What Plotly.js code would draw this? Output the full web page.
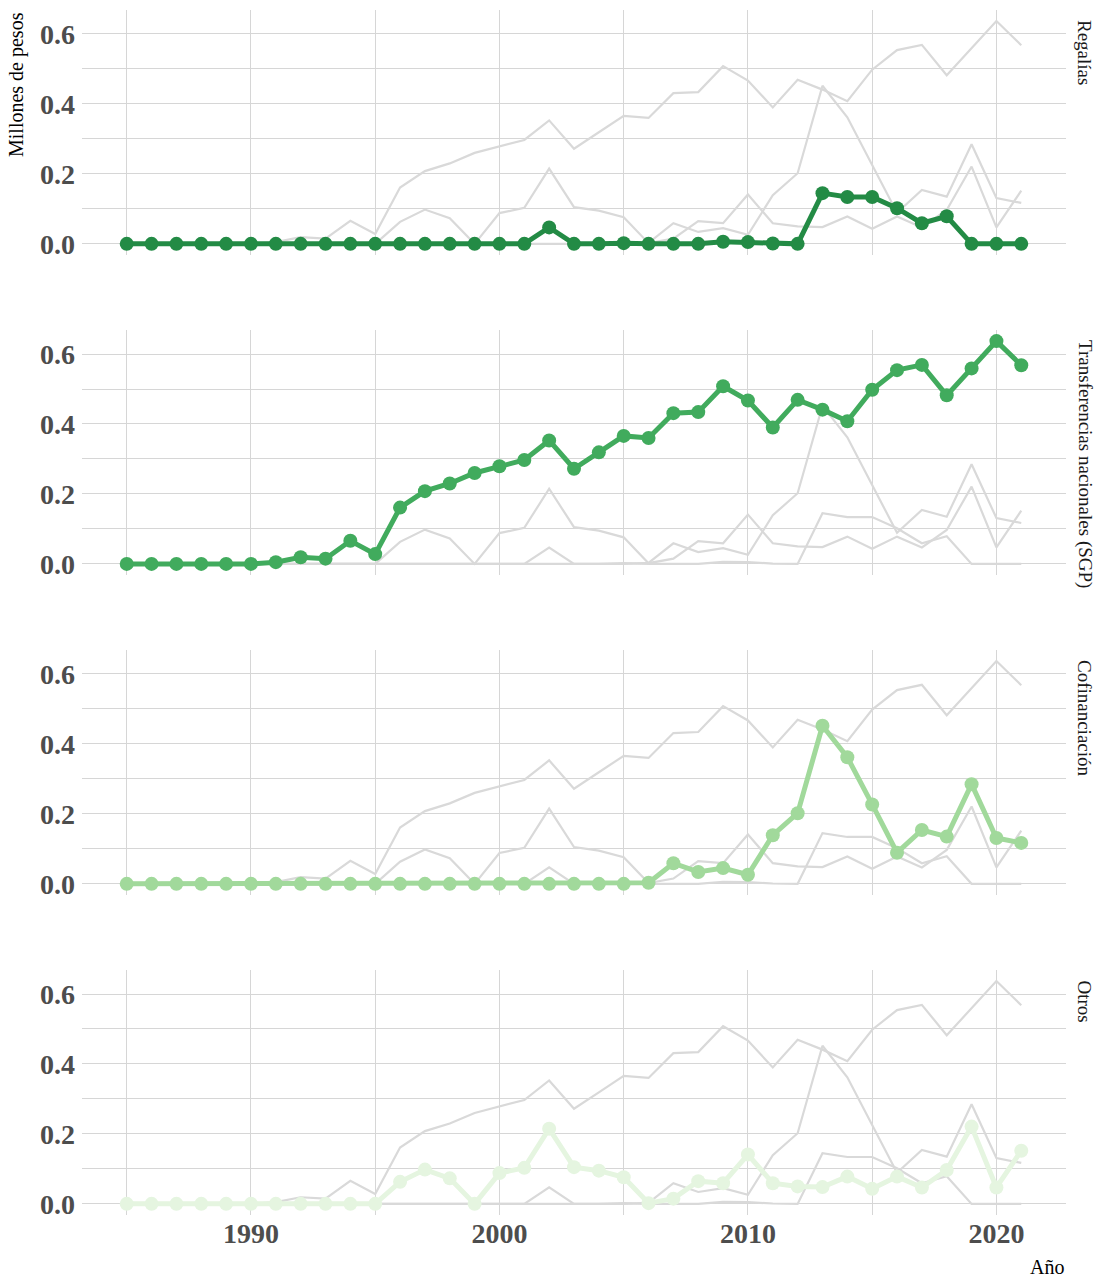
<!DOCTYPE html>
<html>
<head>
<meta charset="utf-8">
<script src="https://cdn.plot.ly/plotly-3.0.1.min.js"></script>
<style>html,body{margin:0;padding:0;background:#fff;}#chart{width:1102px;height:1280px;}</style>
</head>
<body>
<div id="chart"></div>
<script>
const years = [1985,1986,1987,1988,1989,1990,1991,1992,1993,1994,1995,1996,1997,1998,1999,2000,2001,2002,2003,2004,2005,2006,2007,2008,2009,2010,2011,2012,2013,2014,2015,2016,2017,2018,2019,2020,2021];
const regalias = [0,0,0,0,0,0,0,0,0,0,0,0,0,0,0,0,0,0.047,0,0,0.002,0,0,0,0.006,0.005,0.001,0,0.145,0.134,0.134,0.102,0.059,0.079,0,0,0];
const sgp = [0,0,0,0,0,0,0.005,0.019,0.015,0.066,0.028,0.161,0.208,0.230,0.260,0.279,0.297,0.353,0.272,0.319,0.366,0.360,0.431,0.434,0.508,0.467,0.390,0.469,0.441,0.408,0.498,0.554,0.569,0.482,0.559,0.637,0.568];
const cofinanciacion = [0,0,0,0,0,0,0,0,0,0,0,0,0,0,0,0,0,0,0,0,0,0.003,0.059,0.034,0.045,0.026,0.139,0.202,0.452,0.362,0.227,0.089,0.154,0.135,0.285,0.131,0.117];
const otros = [0,0,0,0,0,0,0,0,0,0,0,0.063,0.098,0.073,0,0.088,0.103,0.215,0.105,0.095,0.076,0.002,0.015,0.065,0.059,0.141,0.059,0.050,0.048,0.078,0.043,0.078,0.047,0.097,0.221,0.047,0.152];

const panelNames = ["Regalías","Transferencias nacionales (SGP)","Cofinanciación","Otros"];
const panelColors = ["#238b45","#41ab5d","#a1d99b","#e5f5e0"];
const xTickVals = [1990,2000,2010,2020];
const xTickText = ["1990","2000","2010","2020"];
const yTickVals = [0,0.2,0.4,0.6];
const yTickText = ["0.0","0.2","0.4","0.6"];

const series = [regalias, sgp, cofinanciacion, otros];
const traces = [];
for (let p = 0; p < 4; p++) {
  const xa = p === 0 ? 'x' : 'x' + (p + 1);
  const ya = p === 0 ? 'y' : 'y' + (p + 1);
  for (let s = 0; s < 4; s++) {
    traces.push({x: years, y: series[s], xaxis: xa, yaxis: ya, mode: 'lines',
      line: {color: '#d9d9d9', width: 2.2}, hoverinfo: 'skip'});
  }
  traces.push({x: years, y: series[p], xaxis: xa, yaxis: ya, mode: 'lines+markers',
    line: {color: panelColors[p], width: 5}, marker: {color: panelColors[p], size: 14}});
}

const domains = [[0.7967,1],[0.5311,0.7344],[0.2656,0.4689],[0,0.2033]];
const tickFont = {family: 'Liberation Serif, serif', size: 28, color: '#4d4d4d', weight: 'bold'};
const layout = {
  width: 1102, height: 1280,
  margin: {l: 82, r: 36, t: 10, b: 65},
  paper_bgcolor: '#ffffff', plot_bgcolor: '#ffffff',
  showlegend: false,
  annotations: []
};
for (let p = 0; p < 4; p++) {
  const xk = p === 0 ? 'xaxis' : 'xaxis' + (p + 1);
  const yk = p === 0 ? 'yaxis' : 'yaxis' + (p + 1);
  layout[xk] = {
    anchor: p === 0 ? 'y' : 'y' + (p + 1),
    range: [1983.2, 2022.8], showline: false, zeroline: false,
    tickvals: xTickVals, ticktext: xTickText, showticklabels: p === 3,
    ticks: '', gridcolor: '#d6d6d6', gridwidth: 1,
    minor: {tickvals: [1985,1995,2005,2015], showgrid: true, gridcolor: '#d6d6d6', gridwidth: 1},
    tickfont: tickFont, ticklabelstandoff: -1
  };
  if (p > 0) layout[xk].matches = 'x';
  layout[yk] = {
    anchor: p === 0 ? 'x' : 'x' + (p + 1),
    domain: domains[p], range: [-0.0318, 0.6686],
    showline: false, zeroline: false, ticks: '',
    tickvals: yTickVals, ticktext: yTickText,
    gridcolor: '#d6d6d6', gridwidth: 1,
    minor: {tickvals: [0.1,0.3,0.5], showgrid: true, gridcolor: '#d6d6d6', gridwidth: 1},
    tickfont: tickFont, ticklabelstandoff: 6
  };
  layout.annotations.push({
    text: panelNames[p], xref: 'paper', yref: 'paper', x: 1, y: domains[p][1],
    xanchor: 'left', yanchor: 'top', xshift: 6, yshift: -8, textangle: 90,
    showarrow: false, font: {family: 'Liberation Serif, serif', size: 19, color: '#1a1a1a'}
  });
}
layout.annotations.push({
  text: 'Millones de pesos', xref: 'paper', yref: 'paper', x: 0, y: 1,
  xanchor: 'right', yanchor: 'top', xshift: -52, yshift: 0, textangle: -90,
  showarrow: false, font: {family: 'Liberation Serif, serif', size: 20, color: '#000000'}
});
layout.annotations.push({
  text: 'Año', xref: 'paper', yref: 'paper', x: 1, y: -0.0432,
  xanchor: 'right', yanchor: 'middle', showarrow: false,
  font: {family: 'Liberation Serif, serif', size: 20, color: '#000000'}
});

Plotly.newPlot('chart', traces, layout, {displayModeBar: false});
</script>
</body>
</html>
